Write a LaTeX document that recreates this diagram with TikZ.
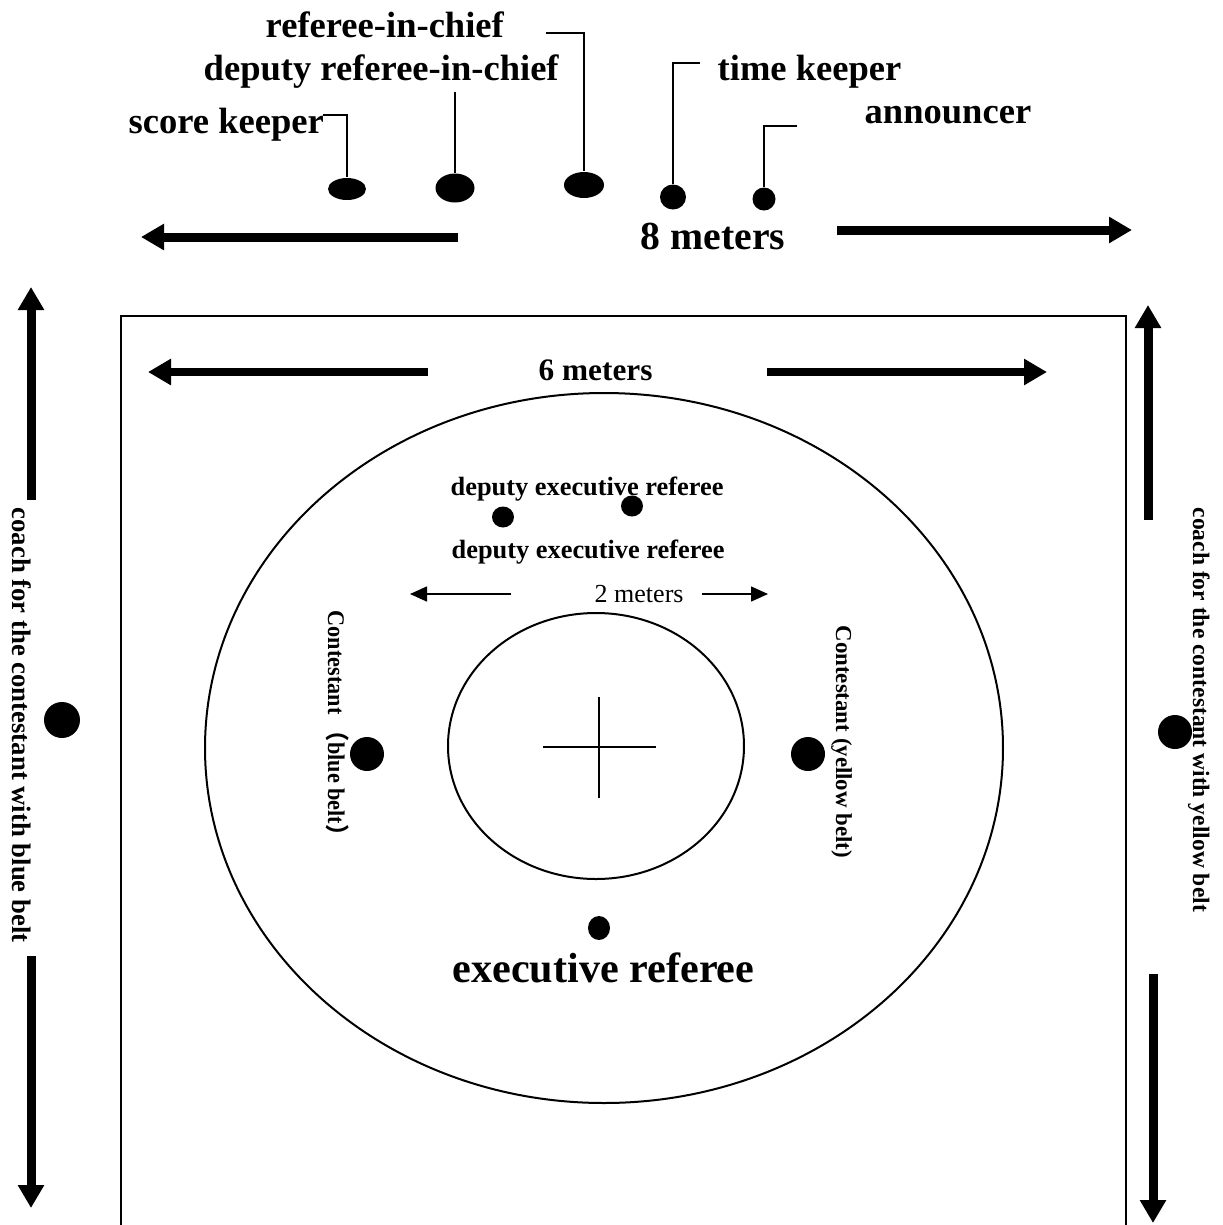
\documentclass[tikz,border=0pt]{standalone}
\usepackage{fontspec}
\setmainfont{Liberation Serif}
\newfontfamily\cjk{Noto Sans CJK SC}
\usetikzlibrary{arrows.meta,shapes.geometric}

\tikzset{
  seat/.style={ellipse,fill=black,inner sep=0pt},
  lbl/.style={inner sep=0pt,anchor=base west},
  toplbl/.style={lbl,font=\fontsize{10.4}{12}\selectfont\bfseries},
  smalllbl/.style={lbl,font=\fontsize{7.5}{9}\selectfont\bfseries},
  sidelbl/.style={lbl,rotate=-90},
  leader/.style={line width=0.25mm},
  span/.style={line width=0.9mm,-{Triangle[length=2.3mm,width=2.5mm]}},
  thinspan/.style={line width=0.15mm,-{Triangle[length=1.7mm,width=1.5mm]}}
}
\providecommand{\Seat}[4]{
\node[seat,minimum width=#3mm,minimum height=#4mm] (#1) at (#2) {};
}

\begin{document}
\begin{tikzpicture}[x=0.1mm,y=-0.1mm]
\path[use as bounding box] (0,0) rectangle (1222,1225);
% mat, circles, centre cross
\draw[line width=0.17mm] (121,1232) |- (1126,316) -- (1126,1232);
\draw[line width=0.2mm] (604,748) ellipse [x radius=39.9mm,y radius=35.5mm];
\draw[line width=0.2mm] (596,746) ellipse [x radius=14.8mm,y radius=13.3mm];
\draw[line width=0.15mm] (543,747) -- (656,747) (599,697) -- (599,798);

% officials' table
\node[toplbl] (rchief) at (265,37) {referee-in-chief};
\node[toplbl] (drchief) at (203,80) {deputy referee-in-chief};
\node[toplbl] (skeeper) at (128,133) {score keeper};
\node[toplbl] (tkeeper) at (717,80) {time keeper};
\node[toplbl] (announcer) at (864,123) {announcer};
\Seat{skdot}{347,189}{3.8}{2.2}
\Seat{drdot}{455,188}{3.9}{2.9}
\Seat{rdot}{584,185}{4.0}{2.6}
\Seat{tkdot}{673,197}{2.6}{2.5}
\Seat{andot}{764,199}{2.3}{2.3}
\coordinate (skc) at (323,115); \draw[leader] (skc) -| (skdot.north);
\coordinate (drc) at (455,92); \draw[leader] (drc) -- (drdot.north);
\coordinate (rc) at (546,33); \draw[leader] (rc) -| (rdot.north);
\coordinate (tkc) at (700,63); \draw[leader] (tkc) -| (tkdot.north);
\coordinate (anc) at (797,126); \draw[leader] (anc) -| (andot.north);

\node[lbl,font=\fontsize{11.3}{13}\selectfont\bfseries] (eightm) at (640,249) {8 meters};
\coordinate (e8a) at (458,237); \coordinate (e8b) at (141,237);
\coordinate (e8c) at (837,230); \coordinate (e8d) at (1132,230);
\draw[span] (e8a) -- (e8b); \draw[span] (e8c) -- (e8d);

% inside the mat
\node[lbl,font=\fontsize{8.9}{10}\selectfont\bfseries] (sixm) at (538,380) {6 meters};
\coordinate (s6a) at (428,372); \coordinate (s6b) at (148,372);
\coordinate (s6c) at (767,372); \coordinate (s6d) at (1047,372);
\draw[span,line width=0.8mm] (s6a) -- (s6b); \draw[span,line width=0.8mm] (s6c) -- (s6d);

\node[smalllbl] (dexec1) at (450,495) {deputy executive referee};
\node[smalllbl] (dexec2) at (451,558) {deputy executive referee};
\Seat{dedot1}{503,517}{2.2}{2.1}
\Seat{dedot2}{632,506}{2.2}{2.1}

\node[lbl,font=\fontsize{7.4}{9}\selectfont] (twom) at (594,602) {2 meters};
\coordinate (t2a) at (511,594); \coordinate (t2b) at (410,594);
\coordinate (t2c) at (702,594); \coordinate (t2d) at (768,594);
\draw[thinspan] (t2a) -- (t2b); \draw[thinspan] (t2c) -- (t2d);

\node[sidelbl,font=\fontsize{6.8}{8}\selectfont\bfseries] (bluec) at (328,610)
  {\scalebox{0.93}[1]{Contestant {\cjk （}blue belt{\cjk ）}}};
\node[sidelbl,font=\fontsize{6.5}{8}\selectfont\bfseries] (yellowc) at (836,625) {Contestant (yellow belt)};
\Seat{bluedot}{367,754}{3.4}{3.4}
\Seat{yellowdot}{808,754}{3.4}{3.4}

\Seat{exdot}{599,928}{2.2}{2.4}
\node[lbl,font=\fontsize{12}{14}\selectfont\bfseries] (exec) at (452,982) {executive referee};

% coaches
\node[sidelbl,font=\fontsize{7.6}{9}\selectfont\bfseries] (bluecoach) at (12,507) {coach for the contestant with blue belt};
\node[sidelbl,font=\fontsize{6.7}{8}\selectfont\bfseries] (yellowcoach) at (1193,507) {coach for the contestant with yellow belt};
\Seat{bcdot}{62,720}{3.6}{3.6}
\Seat{ycdot}{1175,732}{3.4}{3.4}
\coordinate (bca) at (31,500); \coordinate (bcb) at (31,287);
\coordinate (bcc) at (31,956); \coordinate (bcd) at (31,1208);
\coordinate (yca) at (1148,520); \coordinate (ycb) at (1148,305);
\coordinate (ycc) at (1153,974); \coordinate (ycd) at (1153,1223);
\draw[span] (bca) -- (bcb); \draw[span] (bcc) -- (bcd);
\draw[span] (yca) -- (ycb); \draw[span] (ycc) -- (ycd);
\end{tikzpicture}
\end{document}
